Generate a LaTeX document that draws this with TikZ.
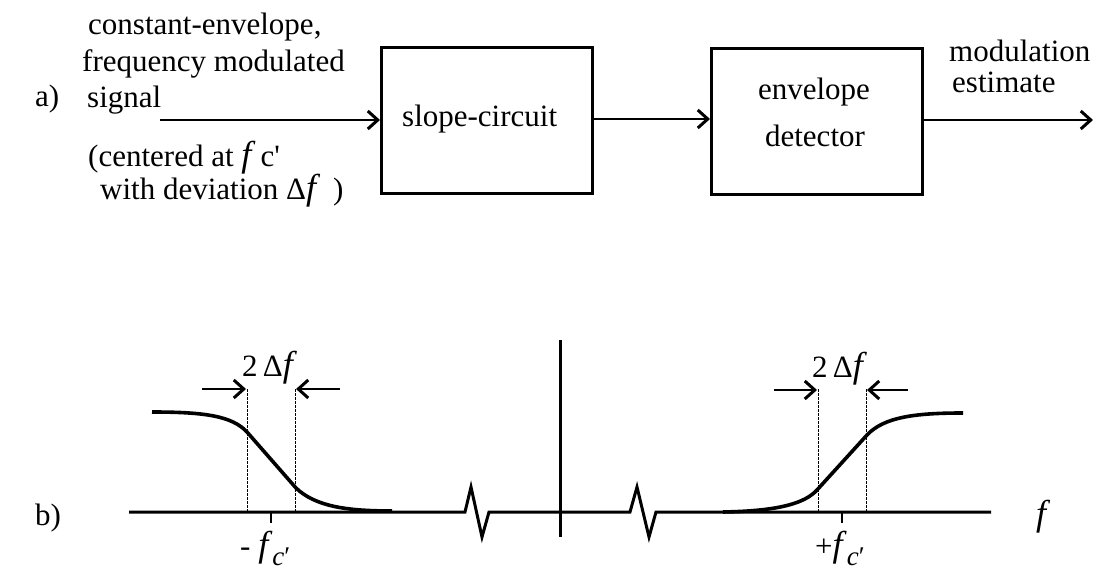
\documentclass[tikz,border=0pt]{standalone}
\usepackage{fontspec}
\setmainfont{Liberation Serif}
\usetikzlibrary{arrows.meta}
\newcommand{\fp}{\textit{f}}
\newcommand{\subc}{\raisebox{-9pt}{\fontsize{27}{27}\selectfont\textit{c}′}}
\begin{document}
\begin{tikzpicture}[x=1pt,y=-1pt,
  every node/.style={font=\fontsize{31}{36}\selectfont, inner sep=0pt},
  blk/.style={draw, line width=3pt, minimum width=211pt, minimum height=146pt, anchor=north west},
  sig/.style={line width=2.4pt, -{Straight Barb[length=10pt,width=18pt,line width=3pt]}},
  curve/.style={line width=3.6pt},
  axis/.style={line width=3pt},
  guide/.style={line width=1pt, dash pattern=on 2.5pt off 1.5pt},
  lbl/.style={anchor=base west}
]
\useasboundingbox (0,0) rectangle (1098,575);

% ---------- part a ----------
\node[lbl] (la) at (35,107) {a)};
\node[lbl] (t1) at (88,35) {constant-envelope,};
\node[lbl] (t2) at (82,72) {frequency modulated};
\node[lbl] (t3) at (87,108) {signal};
\node[lbl] (t4) at (88,167) {(centered at {\fontsize{36}{36}\selectfont\fp}\,c\textquotesingle};
\node[lbl] (t5) at (100,200) {with deviation Δ{\fontsize{36}{36}\selectfont\fp}\, )};

\node[blk] (b1) at (380,46) {};
\node[lbl] (b1t) at (402,127) {slope-circuit};
\node[blk] (b2) at (710,47) {};
\node[anchor=base] (b2a) at (814,100) {envelope};
\node[anchor=base] (b2b) at (815,147) {detector};

\node[lbl] (o1) at (949,62) {modulation};
\node[lbl] (o2) at (952,93) {estimate};

\coordinate (in) at (160,120);
\coordinate (out) at (1093,120);
\draw[sig] (in) -- (in -| b1.west);
\draw[sig] (b1.east |- 0,119) -- (b2.west |- 0,119);
\draw[sig] (b2.east |- out) -- (out);

% ---------- part b ----------
\node[lbl] (lb) at (35,525) {b)};
\node[lbl] (fl) at (1036,525) {{\fontsize{36}{36}\selectfont\fp}};

\draw[axis] (129,512) -- (465,512) -- (471,487) -- (482,537) -- (489,512) -- (630,512)
  -- (637,487) -- (649,537) -- (656,512) -- (991,512);
\draw[axis] (560,340) -- (560,537);

% left slope
\draw[curve] (152,412) .. controls (205,412) and (232,416) .. (247,432)
  -- (296,488) .. controls (315,506) and (345,511) .. (392,511);
\draw[guide] (247,389) -- (247,512);
\draw[guide] (295,389) -- (295,512);
\draw[sig] (202,389) -- (246,389);
\draw[sig] (340,389) -- (296,389);
\node[lbl] (dl) at (242,376) {2\,Δ{\fontsize{36}{36}\selectfont\fp}};
\draw[line width=2.4pt] (271,512) -- (271,523);
\node[lbl] (fcl) at (240,556) {- {\fontsize{36}{36}\selectfont\fp}\subc};

% right slope
\draw[curve] (723,512) .. controls (780,511) and (805,503) .. (817,490)
  -- (867,435) .. controls (884,417) and (915,413) .. (963,413);
\draw[guide] (818,389) -- (818,512);
\draw[guide] (866,389) -- (866,512);
\draw[sig] (774,390) -- (817,390);
\draw[sig] (908,390) -- (867,390);
\node[lbl] (dr) at (812,377) {2\,Δ{\fontsize{36}{36}\selectfont\fp}};
\draw[line width=2.4pt] (842,512) -- (842,523);
\node[lbl] (fcr) at (815,556) {+{\fontsize{36}{36}\selectfont\fp}\subc};
\end{tikzpicture}
\end{document}
